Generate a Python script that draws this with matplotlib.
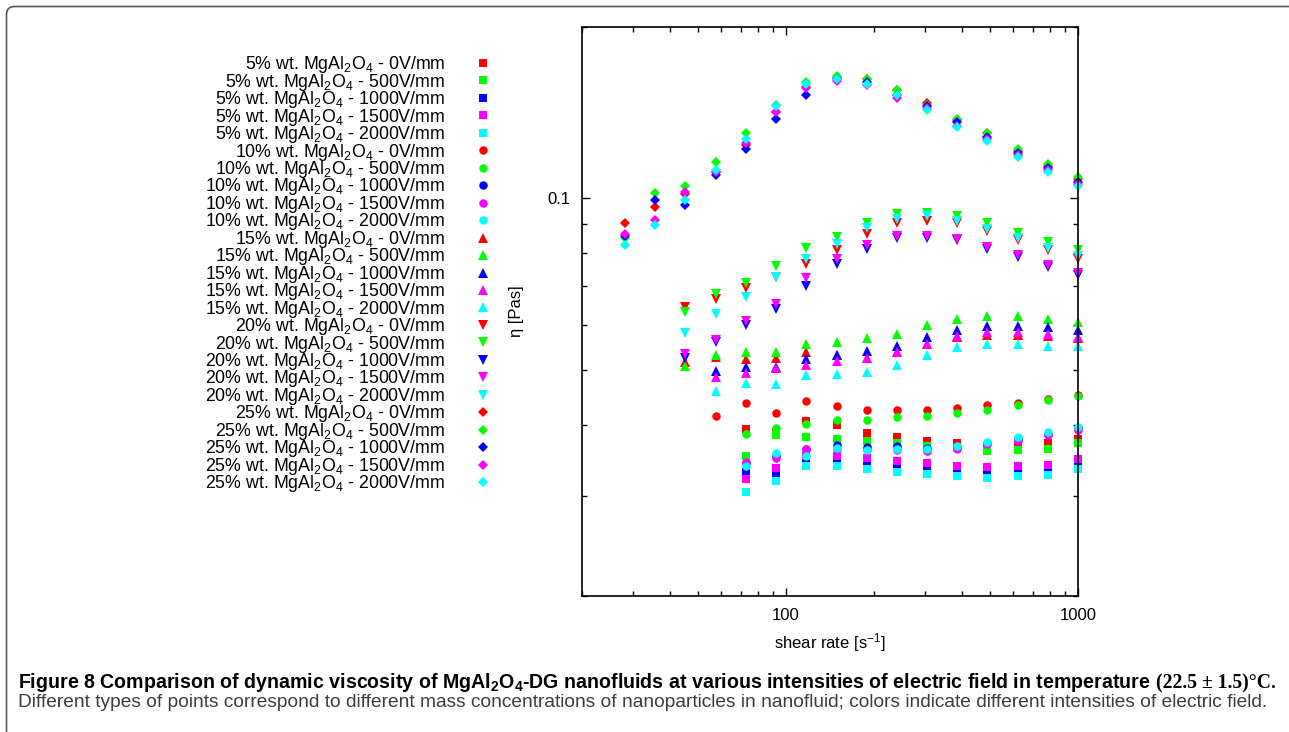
import numpy as np
import matplotlib
matplotlib.use('Agg')
import matplotlib.pyplot as plt
from matplotlib.ticker import FixedLocator, FixedFormatter, NullFormatter
from matplotlib.patches import FancyBboxPatch
from matplotlib.transforms import IdentityTransform

plt.rcParams['font.family'] = ['Liberation Sans', 'DejaVu Sans']
plt.rcParams['mathtext.fontset'] = 'custom'
plt.rcParams['mathtext.rm'] = 'Liberation Sans'
plt.rcParams['mathtext.it'] = 'Liberation Sans:italic'
plt.rcParams['mathtext.bf'] = 'Liberation Sans:bold'

W, H = 1289, 732
nan = np.nan

# ---------------- data ----------------
shear_rate = [28.1, 35.6, 45.2, 57.4, 72.8, 92.4, 117, 149, 189, 240,
              304, 386, 489, 621, 788, 1000]

concentrations = ['5%', '10%', '15%', '20%', '25%']
field_labels = ['0V/mm', '500V/mm', '1000V/mm', '1500V/mm', '2000V/mm']

# 5% wt. (squares) rows: 0, 500, 1000, 1500, 2000 V/mm
eta_5 = [
    [nan]*4 + [0.0393, 0.0388, 0.0406, 0.0399, 0.0387, 0.0380, 0.0375, 0.0371, 0.0366, 0.0369, 0.0372, 0.0378],
    [nan]*4 + [0.0352, 0.0383, 0.0380, 0.0378, 0.0374, 0.0371, 0.0367, 0.0364, 0.0360, 0.0361, 0.0363, 0.0371],
    [nan]*4 + [0.0331, 0.0328, 0.0349, 0.0346, 0.0344, 0.0338, 0.0336, 0.0333, 0.0331, 0.0332, 0.0334, 0.0343],
    [nan]*4 + [0.0321, 0.0336, 0.0352, 0.0352, 0.0350, 0.0345, 0.0343, 0.0338, 0.0337, 0.0338, 0.0340, 0.0348],
    [nan]*4 + [0.0305, 0.0319, 0.0339, 0.0338, 0.0335, 0.0330, 0.0328, 0.0325, 0.0323, 0.0325, 0.0327, 0.0335],
]
# 10% wt. (circles)
eta_10 = [
    [nan]*3 + [0.0414, 0.0436, 0.0419, 0.0440, 0.0431, 0.0424, 0.0424, 0.0425, 0.0428, 0.0434, 0.0437, 0.0443, 0.0451],
    [nan]*4 + [0.0386, 0.0394, 0.0401, 0.0407, 0.0407, 0.0412, 0.0414, 0.0419, 0.0425, 0.0433, 0.0442, 0.0449],
    [nan]*4 + [0.0342, 0.0353, 0.0363, 0.0368, 0.0366, 0.0367, 0.0364, 0.0365, 0.0371, 0.0377, 0.0386, 0.0394],
    [nan]*4 + [0.0344, 0.0349, 0.0363, 0.0362, 0.0361, 0.0361, 0.0359, 0.0362, 0.0370, 0.0374, 0.0383, 0.0392],
    [nan]*4 + [0.0338, 0.0357, 0.0353, 0.0364, 0.0361, 0.0362, 0.0363, 0.0367, 0.0373, 0.0380, 0.0388, 0.0396],
]
# 15% wt. (up triangles)
eta_15 = [
    [nan]*2 + [0.0515, 0.0526, 0.0521, 0.0523, 0.0536, 0.0531, 0.0523, 0.0537, 0.0555, 0.0570, 0.0576, 0.0576, 0.0572, 0.0568],
    [nan]*2 + [0.0507, 0.0530, 0.0537, 0.0536, 0.0555, 0.0558, 0.0567, 0.0577, 0.0600, 0.0614, 0.0622, 0.0620, 0.0613, 0.0606],
    [nan]*3 + [0.0497, 0.0505, 0.0505, 0.0521, 0.0530, 0.0538, 0.0550, 0.0570, 0.0588, 0.0596, 0.0596, 0.0593, 0.0586],
    [nan]*3 + [0.0485, 0.0493, 0.0503, 0.0509, 0.0518, 0.0523, 0.0537, 0.0555, 0.0573, 0.0581, 0.0581, 0.0577, 0.0570],
    [nan]*3 + [0.0459, 0.0474, 0.0472, 0.0489, 0.0492, 0.0495, 0.0509, 0.0530, 0.0548, 0.0555, 0.0555, 0.0551, 0.0550],
]
# 20% wt. (down triangles)
eta_20 = [
    [nan]*2 + [0.0644, 0.0664, 0.0696, 0.0726, 0.0766, 0.0810, 0.0867, 0.0905, 0.0912, 0.0903, 0.0875, 0.0844, 0.0810, 0.0783],
    [nan]*2 + [0.0630, 0.0678, 0.0710, 0.0760, 0.0818, 0.0855, 0.0903, 0.0937, 0.0942, 0.0930, 0.0903, 0.0870, 0.0838, 0.0810],
    [nan]*2 + [0.0524, 0.0559, 0.0600, 0.0640, 0.0701, 0.0768, 0.0813, 0.0850, 0.0852, 0.0844, 0.0816, 0.0789, 0.0757, 0.0732],
    [nan]*2 + [0.0533, 0.0564, 0.0609, 0.0653, 0.0724, 0.0783, 0.0829, 0.0857, 0.0859, 0.0847, 0.0820, 0.0794, 0.0763, 0.0738],
    [nan]*2 + [0.0580, 0.0627, 0.0671, 0.0726, 0.0783, 0.0830, 0.0888, 0.0921, 0.0930, 0.0912, 0.0882, 0.0852, 0.0818, 0.0792],
]
# 25% wt. (diamonds)
eta_25 = [
    [0.0906, 0.0965, 0.1016, 0.111, 0.124, 0.142, 0.157, 0.163, 0.162, 0.155, 0.147, 0.137, 0.130, 0.121, 0.114, 0.108],
    [0.0850, 0.102, 0.105, 0.116, 0.130, 0.146, 0.160, 0.164, 0.162, 0.155, 0.146, 0.138, 0.130, 0.122, 0.115, 0.109],
    [0.0857, 0.0995, 0.0975, 0.110, 0.122, 0.138, 0.152, 0.162, 0.160, 0.152, 0.145, 0.136, 0.128, 0.120, 0.113, 0.107],
    [0.0866, 0.0915, 0.1026, 0.111, 0.125, 0.142, 0.156, 0.161, 0.158, 0.150, 0.144, 0.134, 0.127, 0.119, 0.112, 0.106],
    [0.0829, 0.0897, 0.0995, 0.112, 0.127, 0.145, 0.159, 0.162, 0.159, 0.152, 0.143, 0.1335, 0.126, 0.118, 0.111, 0.105],
]

x_major_ticks = [100, 1000]
x_major_labels = ['100', '1000']
x_minor_ticks = [20, 30, 40, 50, 60, 70, 80, 90, 200, 300, 400, 500, 600, 700, 800, 900]
y_major_ticks = [0.1]
y_major_labels = ['0.1']
y_minor_ticks = [0.02, 0.03, 0.04, 0.05, 0.06, 0.07, 0.08, 0.09, 0.2]

# ---------------- style ----------------
field_colors = ['#ff0000', '#00ff00', '#0000ff', '#ff00ff', '#00ffff']
conc_markers = ['s', 'o', '^', 'v', 'D']
marker_sizes = [6.4, 6.1, 6.6, 6.6, 5.2]
series = [eta_5, eta_10, eta_15, eta_20, eta_25]

fig = plt.figure(figsize=(W / 100, H / 100), dpi=100)
ax = fig.add_axes([582 / W, 1 - 596 / H, 496 / W, 569 / H])

handles, labels = [], []
for conc, data, mk, ms in zip(concentrations, series, conc_markers, marker_sizes):
    for fl, col, vals in zip(field_labels, field_colors, data):
        h, = ax.plot(shear_rate, vals, linestyle='none', marker=mk, ms=ms,
                     mfc=col, mec=col, mew=0, clip_on=False)
        handles.append(h)
        labels.append(conc + r' wt. MgAl$_\mathrm{2}$O$_\mathrm{4}$ - ' + fl)

ax.set_xscale('log')
ax.set_yscale('log')
ax.set_xlim(20, 1000)
ax.set_ylim(0.02, 0.2)
ax.xaxis.set_major_locator(FixedLocator(x_major_ticks))
ax.xaxis.set_major_formatter(FixedFormatter(x_major_labels))
ax.xaxis.set_minor_locator(FixedLocator(x_minor_ticks))
ax.xaxis.set_minor_formatter(NullFormatter())
ax.yaxis.set_major_locator(FixedLocator(y_major_ticks))
ax.yaxis.set_major_formatter(FixedFormatter(y_major_labels))
ax.yaxis.set_minor_locator(FixedLocator(y_minor_ticks))
ax.yaxis.set_minor_formatter(NullFormatter())

ax.tick_params(which='both', direction='in', top=True, right=True, width=1.0,
               color='black', labelsize=12)
ax.tick_params(which='major', length=6)
ax.tick_params(which='minor', length=3.5)
ax.tick_params(axis='x', which='major', pad=9)
ax.tick_params(axis='y', which='major', pad=8.5)
for sp in ax.spines.values():
    sp.set_linewidth(1.2)
    sp.set_color('black')

ax.set_xlabel(r'shear rate [s$^\mathrm{-1}$]', fontsize=12)
ax.xaxis.set_label_coords(0.5, (596 - 631) / 569)
ax.set_ylabel('η [Pas]', fontsize=12)
ax.yaxis.label.set_va('center')
ax.yaxis.set_label_coords((517 - 582) / 496, 0.5)

# ---------------- legend ----------------
fs = 12.8
fs_px = fs * 100 / 72.0


def make_legend(lsp, htp, anchor):
    lg = ax.legend(handles, labels, loc='upper right', bbox_to_anchor=anchor,
                   bbox_transform=fig.transFigure, markerfirst=False,
                   frameon=False, fontsize=fs, handlelength=1.0,
                   handletextpad=htp, labelspacing=lsp, borderpad=0,
                   borderaxespad=0, numpoints=1)
    return lg


def measure(lg):
    fig.canvas.draw()
    r = fig.canvas.get_renderer()
    hs = lg.legend_handles
    p0 = hs[0].get_transform().transform(hs[0].get_xydata())[1]
    p1 = hs[-1].get_transform().transform(hs[-1].get_xydata())[1]
    tr = lg.get_texts()[0].get_window_extent(r).x1
    return p0, p1, tr


lsp, htp = 0.0, 1.8
anchor = (495 / W, 1 - 50 / H)
leg = make_legend(lsp, htp, anchor)
p0, p1, tr = measure(leg)
spacing = (p0[1] - p1[1]) / 24.0
want_sp = (482 - 63) / 24.0
lsp = lsp + (want_sp - spacing) / fs_px
htp = htp + (38 - (p0[0] - tr)) / fs_px
leg.remove()
leg = make_legend(lsp, htp, anchor)
p0, p1, tr = measure(leg)
dx = 483 - p0[0]
dy = (H - 63) - p0[1]
anchor = (anchor[0] + dx / W, anchor[1] + dy / H)
leg.remove()
leg = make_legend(lsp, htp, anchor)

# ---------------- frame ----------------
frame = FancyBboxPatch((6.5, -80), 1500, (H - 6.5) + 80,
                       boxstyle='round,pad=0,rounding_size=8',
                       transform=IdentityTransform(), fill=False,
                       ec='#555555', lw=1.2)
fig.add_artist(frame)

# ---------------- caption ----------------
fig.canvas.draw()
rend = fig.canvas.get_renderer()


def fit_line(pieces, x0, x1, base_y, fs0):
    ts = [fig.text(0, 1 - base_y / H, s, fontsize=fs0, va='baseline', ha='left', **p)
          for s, p in pieces]
    fig.canvas.draw()
    widths = [t.get_window_extent(rend).width for t in ts]
    gap = 0.27 * fs0 * 100 / 72.0
    total = sum(widths) + gap * (len(ts) - 1)
    f = (x1 - x0) / total
    for t in ts:
        t.set_fontsize(fs0 * f)
    fig.canvas.draw()
    gap = 0.27 * fs0 * f * 100 / 72.0
    x = x0
    for t in ts:
        t.set_x(x / W)
        x += t.get_window_extent(rend).width + gap
    return ts


fit_line([
    ('Figure 8 Comparison of dynamic viscosity of MgAl$_\\mathbf{2}$O$_\\mathbf{4}$-DG nanofluids '
     'at various intensities of electric field in temperature',
     dict(fontweight='bold', color='black')),
    ('(22.5 ± 1.5)°C.', dict(fontweight='bold', color='black',
                             family=['Liberation Serif', 'DejaVu Serif'])),
], 18, 1276, 688, 12)

fit_line([
    ('Different types of points correspond to different mass concentrations of nanoparticles '
     'in nanofluid; colors indicate different intensities of electric field.',
     dict(color='#3c3c3c')),
], 18, 1275, 707, 12)

fig.savefig('out.png', dpi=100)
